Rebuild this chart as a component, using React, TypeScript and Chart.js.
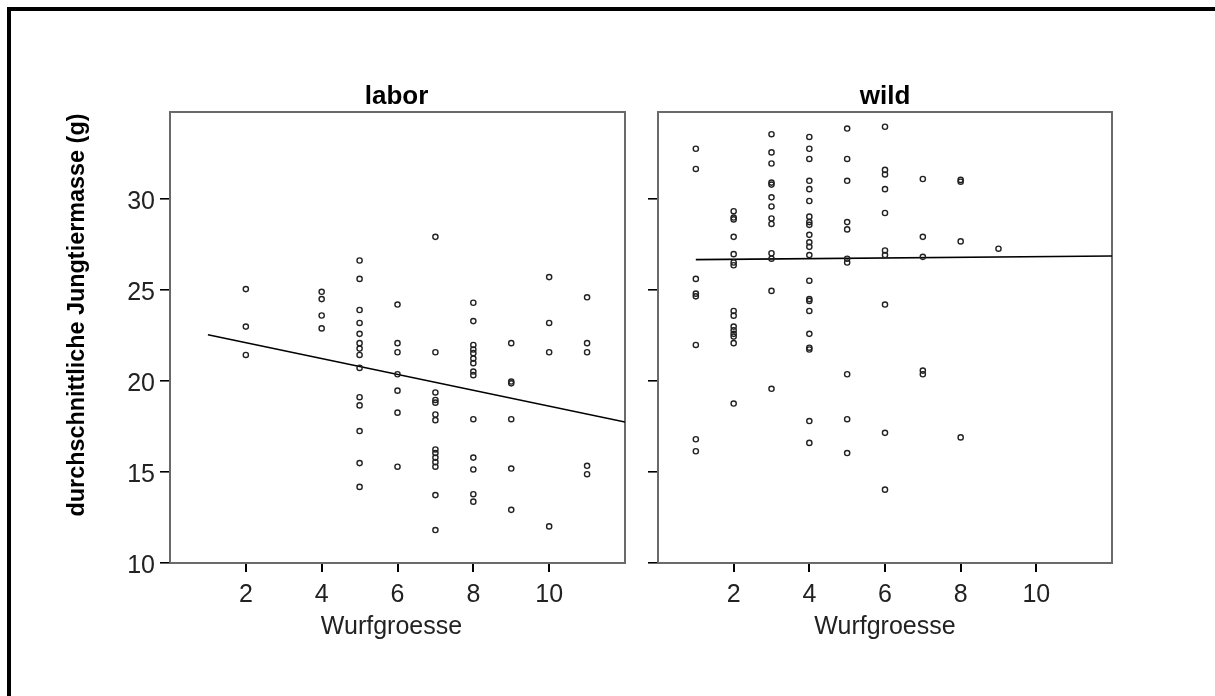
import { useEffect, useRef } from "react";
import { Chart, registerables } from "chart.js";

Chart.register(...registerables);

// Litter sizes (Wurfgroesse) that occur in each group
const WURF_LABOR = [2, 4, 5, 6, 7, 8, 9, 10, 11];
const WURF_WILD = [1, 2, 3, 4, 5, 6, 7, 8, 9];

// Mean pup mass in grams, one list per litter size above
const MASSE_LABOR = [
  [25.05, 22.99, 21.43],
  [24.9, 24.5, 23.6, 22.89],
  [26.62, 25.61, 23.9, 23.19, 22.59, 22.08, 21.78, 21.43, 20.72, 19.11, 18.66, 17.25, 15.49, 14.18],
  [24.2, 22.08, 21.58, 20.37, 19.47, 18.26, 15.29],
  [27.92, 21.58, 19.37, 18.96, 18.81, 18.16, 17.85, 16.24, 16.04, 15.79, 15.54, 15.29, 13.73, 11.81],
  [24.3, 23.29, 21.98, 21.73, 21.53, 21.23, 20.98, 20.52, 20.32, 17.9, 15.79, 15.14, 13.78, 13.37],
  [22.08, 19.97, 19.87, 17.9, 15.19, 12.92],
  [25.71, 23.19, 21.58, 12.01],
  [24.6, 22.08, 21.58, 15.34, 14.88],
];
const MASSE_WILD = [
  [32.76, 31.65, 25.61, 24.8, 24.65, 21.98, 16.8, 16.14],
  [29.33, 28.98, 28.88, 27.92, 26.97, 26.51, 26.36, 23.85, 23.59, 22.99, 22.79, 22.59, 22.44, 22.08, 18.76],
  [33.56, 32.56, 31.95, 30.9, 30.79, 30.09, 29.59, 28.93, 28.63, 27.02, 26.72, 24.95, 19.57],
  [33.41, 32.76, 32.2, 31.0, 30.54, 29.89, 29.03, 28.73, 28.58, 28.03, 27.62, 27.37, 26.92, 25.51, 24.5, 24.4, 23.85, 22.59, 21.83, 21.73, 17.8, 16.6],
  [33.87, 32.2, 31.0, 28.73, 28.33, 26.72, 26.51, 20.37, 17.9, 16.04],
  [33.97, 31.6, 31.35, 30.54, 29.23, 27.17, 26.92, 24.2, 17.15, 14.03],
  [31.1, 27.92, 26.82, 20.57, 20.37],
  [31.05, 30.95, 27.67, 16.9],
  [27.27],
];

// Linear fit lines, evaluated at the ends of the fitted range
const FIT_WURF = [1, 12];
const FIT_LABOR = [22.54, 17.75];
const FIT_WILD = [26.67, 26.87];

// Axis ranges and tick values
const X_RANGE = [0, 12];
const Y_RANGE = [10, 34.78];
const X_TICKS = [2, 4, 6, 8, 10];
const Y_TICKS = [10, 15, 20, 25, 30];

const PANEL_TITLES = ["labor", "wild"];
const X_TITLE = "Wurfgroesse";
const Y_TITLE = "durchschnittliche Jungtiermasse (g)";

const FONT = '"Liberation Sans", Arial, sans-serif';
const H = 696;

const toPoints = (wurf: number[], masse: number[][]) =>
  wurf.flatMap((w, i) => masse[i].map((m) => ({ x: w, y: m })));

const toLine = (ys: number[]) => FIT_WURF.map((x, i) => ({ x, y: ys[i] }));

// Frame around the plot area plus panel title, x title and (optionally) y title
const panelDecor = {
  id: "panelDecor",
  beforeDatasetsDraw(chart: any) {
    const { ctx, chartArea: a } = chart;
    ctx.save();
    ctx.strokeStyle = "#6a6a6a";
    ctx.lineWidth = 2;
    ctx.strokeRect(a.left, a.top, a.right - a.left, a.bottom - a.top);
    ctx.restore();
  },
  afterDraw(chart: any, _args: any, o: any) {
    const { ctx, chartArea: a } = chart;
    const cx = (a.left + a.right) / 2;
    ctx.save();
    ctx.textAlign = "center";
    ctx.textBaseline = "middle";
    ctx.fillStyle = "#000";
    ctx.font = `bold 26px ${FONT}`;
    ctx.fillText(o.title, cx + o.titleDx, 97);
    ctx.fillStyle = "#222";
    ctx.font = `25px ${FONT}`;
    ctx.fillText(X_TITLE, cx + o.xTitleDx, 627);
    if (o.yTitle) {
      ctx.translate(78, 315);
      ctx.rotate(-Math.PI / 2);
      ctx.fillStyle = "#000";
      ctx.font = `bold 23.4px ${FONT}`;
      ctx.fillText(Y_TITLE, 0, 0);
    }
    ctx.restore();
  },
};

type PanelCfg = {
  axisWidth: number;
  padRight: number;
  showYLabels: boolean;
  title: string;
  titleDx: number;
  xTitleDx: number;
  yTitle: boolean;
  points: { x: number; y: number }[];
  fit: { x: number; y: number }[];
};

function makePanel(canvas: HTMLCanvasElement, c: PanelCfg) {
  const tickFont = { family: FONT, size: 25 };
  return new Chart(canvas, {
    type: "scatter",
    data: {
      datasets: [
        {
          data: c.points,
          pointStyle: "circle",
          pointRadius: 2.6,
          pointBorderWidth: 1.4,
          borderColor: "#222",
          backgroundColor: "rgba(0,0,0,0)",
          showLine: false,
        },
        {
          data: c.fit,
          showLine: true,
          pointRadius: 0,
          borderColor: "#000",
          borderWidth: 1.6,
          fill: false,
        },
      ],
    },
    options: {
      responsive: false,
      animation: false,
      devicePixelRatio: 1,
      events: [],
      layout: { padding: { left: 0, top: 112, right: c.padRight, bottom: 0 } },
      plugins: {
        legend: { display: false },
        tooltip: { enabled: false },
        // @ts-ignore
        panelDecor: { title: c.title, titleDx: c.titleDx, xTitleDx: c.xTitleDx, yTitle: c.yTitle },
      },
      scales: {
        x: {
          type: "linear",
          min: X_RANGE[0],
          max: X_RANGE[1],
          afterBuildTicks: (s: any) => {
            s.ticks = X_TICKS.map((v) => ({ value: v }));
          },
          afterFit: (s: any) => {
            s.height = H - 563;
          },
          border: { display: false },
          grid: { drawOnChartArea: false, drawTicks: true, tickLength: 9, color: "#000", lineWidth: 2 },
          ticks: { padding: 8, color: "#222", font: tickFont, maxRotation: 0 },
        },
        y: {
          type: "linear",
          min: Y_RANGE[0],
          max: Y_RANGE[1],
          afterBuildTicks: (s: any) => {
            s.ticks = Y_TICKS.map((v) => ({ value: v }));
          },
          afterFit: (s: any) => {
            s.width = c.axisWidth;
          },
          border: { display: false },
          grid: { drawOnChartArea: false, drawTicks: true, tickLength: 10, color: "#000", lineWidth: 1.6 },
          ticks: { display: c.showYLabels, padding: 5, labelOffset: 3, color: "#222", font: tickFont },
        },
      },
    },
    plugins: [panelDecor as any],
  });
}

export default function App() {
  const leftRef = useRef<HTMLCanvasElement>(null);
  const rightRef = useRef<HTMLCanvasElement>(null);

  useEffect(() => {
    const left = makePanel(leftRef.current!, {
      axisWidth: 170,
      padRight: 15,
      showYLabels: true,
      title: PANEL_TITLES[0],
      titleDx: -1,
      xTitleDx: -6,
      yTitle: true,
      points: toPoints(WURF_LABOR, MASSE_LABOR),
      fit: toLine(FIT_LABOR),
    });
    const right = makePanel(rightRef.current!, {
      axisWidth: 18,
      padRight: 103,
      showYLabels: false,
      title: PANEL_TITLES[1],
      titleDx: 0,
      xTitleDx: 0,
      yTitle: false,
      points: toPoints(WURF_WILD, MASSE_WILD),
      fit: toLine(FIT_WILD),
    });
    return () => {
      left.destroy();
      right.destroy();
    };
  }, []);

  return (
    <div style={{ position: "absolute", left: 0, top: 0, width: 1215, height: H, background: "#fff", overflow: "hidden" }}>
      <div
        style={{
          position: "absolute",
          left: 7,
          top: 7,
          width: 1215,
          height: H,
          borderLeft: "4px solid #000",
          borderTop: "4px solid #000",
        }}
      />
      <canvas ref={leftRef} width={640} height={H} style={{ position: "absolute", left: 0, top: 0, width: 640, height: H }} />
      <canvas ref={rightRef} width={575} height={H} style={{ position: "absolute", left: 640, top: 0, width: 575, height: H }} />
    </div>
  );
}
